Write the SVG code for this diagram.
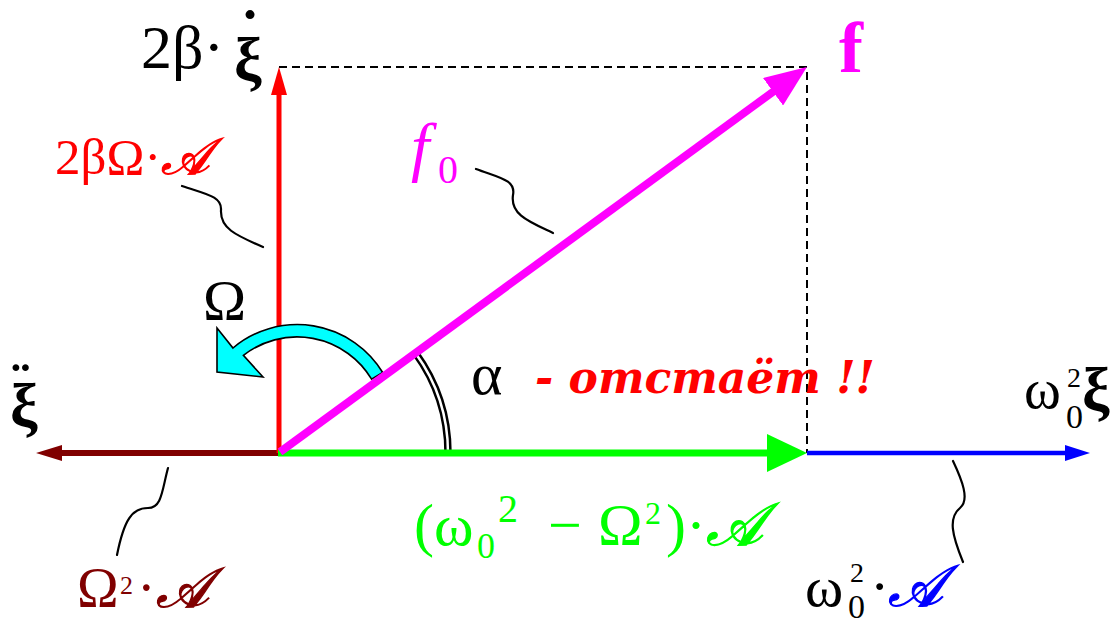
<svg xmlns="http://www.w3.org/2000/svg" width="1120" height="627" viewBox="0 0 1120 627">
<style>
text { font-family: "Liberation Serif", "DejaVu Serif", serif; }
.dash { stroke: #000; stroke-width: 2; stroke-dasharray: 8 5; fill: none; }
.lead { stroke: #000; stroke-width: 2.2; fill: none; stroke-linecap: round; }
.b { font-weight: bold; }
.it { font-style: italic; }
.scr { font-style: italic; stroke-width: 1.3; }
</style>
<defs>
<marker id="hRed" markerUnits="userSpaceOnUse" markerWidth="28" markerHeight="16" viewBox="0 0 28 16" refX="14" refY="8" orient="auto"><path d="M0,0 L28,8 L0,16 Z" fill="#ff0000"/></marker>
<marker id="hMag" markerUnits="userSpaceOnUse" markerWidth="42" markerHeight="34" viewBox="0 0 42 34" refX="22" refY="17" orient="auto"><path d="M0,0 L42,17 L0,34 Z" fill="#ff00ff"/></marker>
<marker id="hGrn" markerUnits="userSpaceOnUse" markerWidth="40" markerHeight="38" viewBox="0 0 40 38" refX="20" refY="19" orient="auto"><path d="M0,0 L40,19 L0,38 Z" fill="#00ff00"/></marker>
<marker id="hBlu" markerUnits="userSpaceOnUse" markerWidth="25" markerHeight="16" viewBox="0 0 25 16" refX="13" refY="8" orient="auto"><path d="M0,0 L25,8 L0,16 Z" fill="#0000ff"/></marker>
<marker id="hDrd" markerUnits="userSpaceOnUse" markerWidth="26" markerHeight="16" viewBox="0 0 26 16" refX="14" refY="8" orient="auto"><path d="M0,0 L26,8 L0,16 Z" fill="#800000"/></marker>
</defs>
<rect width="1120" height="627" fill="#fff"/>

<g id="connectors">
  <path class="dash" d="M279,67 L807,67 L807,453"/>
  <g id="angle-alpha">
    <path d="M415.4,352.9 A170,170 0 0 1 448,453" fill="none" stroke="#000" stroke-width="7.5"/>
    <path d="M415.4,352.9 A170,170 0 0 1 448,453" fill="none" stroke="#fff" stroke-width="2.5"/>
  </g>
  <line x1="278" y1="453" x2="48" y2="453" stroke="#800000" stroke-width="6" marker-end="url(#hDrd)"/>
  <line x1="807" y1="453" x2="1078" y2="453" stroke="#0000ff" stroke-width="4.5" marker-end="url(#hBlu)"/>
  <line x1="279" y1="453" x2="279" y2="81" stroke="#ff0000" stroke-width="5" marker-end="url(#hRed)"/>
  <path id="rotation-omega" d="M382.7,372.5 A100,100 0 0 0 233,348 L217,328 L217,372 L263,377 L243.4,355.4 A87,87 0 0 1 371.6,379.2 Z" fill="#00ffff" stroke="#000" stroke-width="1.6" stroke-linejoin="miter"/>
  <line x1="278" y1="453" x2="787" y2="453" stroke="#00ff00" stroke-width="7" marker-end="url(#hGrn)"/>
  <line x1="280" y1="452" x2="790.8" y2="78.8" stroke="#ff00ff" stroke-width="8" marker-end="url(#hMag)"/>
  <path class="lead" d="M182,186 C205,194 222,196 221,210 C220,228 235,235 263,247"/>
  <path class="lead" d="M476,169 C500,178 516,180 513,195 C510,215 530,222 553,233"/>
  <path class="lead" d="M168,468 C162,490 162,508 148,508 C132,508 124,520 117,555"/>
  <path class="lead" d="M953,461 C962,480 970,500 960,508 C948,518 952,535 963,562"/>
</g>

<g id="label-2beta-xidot">
  <text x="141" y="68" font-size="62" fill="#000">2β·</text>
  <text x="234" y="80" font-size="62" fill="#000" class="b">ξ</text>
  <text x="240" y="51" font-size="60" fill="#000" class="b">˙</text>
</g>
<g id="label-2betaOmegaA">
  <text x="55" y="174" font-size="51" fill="#ff0000">2βΩ·<tspan class="scr" stroke="#ff0000">𝒜</tspan></text>
</g>
<g id="label-f0">
  <text x="411" y="169" font-size="66" fill="#ff00ff" class="it">f</text>
  <text x="438" y="183" font-size="40" fill="#ff00ff">0</text>
</g>
<g id="label-f">
  <text x="839" y="72" font-size="72" fill="#ff00ff" class="b">f</text>
</g>
<g id="label-Omega">
  <text x="203" y="320" font-size="58" fill="#000">Ω</text>
</g>
<g id="label-alpha">
  <text x="471" y="394" font-size="60" fill="#000">α</text>
  <text x="535" y="393" font-size="44" fill="#ff0000" style="font-family:'DejaVu Serif',serif;font-weight:bold;font-style:italic">- отстаёт !!</text>
</g>
<g id="label-xiddot">
  <text x="10" y="426" font-size="62" fill="#000" class="b">ξ</text>
  <text x="11" y="403" font-size="58" fill="#000" class="b">¨</text>
</g>
<g id="label-omega0sq-xi">
  <text x="1024" y="408" font-size="56" fill="#000">ω</text>
  <text x="1066" y="428" font-size="34" fill="#000">0</text>
  <text x="1067" y="387" font-size="28" fill="#000">2</text>
  <text x="1082" y="410" font-size="62" fill="#000" class="b">ξ</text>
</g>
<g id="label-Omega2A">
  <text x="77" y="607" font-size="56" fill="#800000">Ω</text>
  <text x="120" y="594" font-size="26" fill="#800000">2</text>
  <text x="137" y="607" font-size="56" fill="#800000">·<tspan class="scr" stroke="#800000">𝒜</tspan></text>
</g>
<g id="label-green">
  <text x="414" y="545" font-size="60" fill="#00ff00">(ω</text>
  <text x="477" y="558" font-size="36" fill="#00ff00">0</text>
  <text x="498" y="522" font-size="40" fill="#00ff00">2</text>
  <text x="548" y="545" font-size="60" fill="#00ff00">−</text>
  <text x="598" y="545" font-size="60" fill="#00ff00">Ω</text>
  <text x="645" y="524" font-size="32" fill="#00ff00">2</text>
  <text x="666" y="545" font-size="60" fill="#00ff00">)·<tspan class="scr" stroke="#00ff00">𝒜</tspan></text>
</g>
<g id="label-omega0sqA">
  <text x="805" y="606" font-size="58" fill="#000">ω</text>
  <text x="848" y="618" font-size="34" fill="#000">0</text>
  <text x="850" y="582" font-size="28" fill="#000">2</text>
  <text x="870" y="606" font-size="58" fill="#000">·</text>
  <text x="888" y="606" font-size="58" fill="#0000ff" stroke="#0000ff" class="scr">𝒜</text>
</g>
</svg>
